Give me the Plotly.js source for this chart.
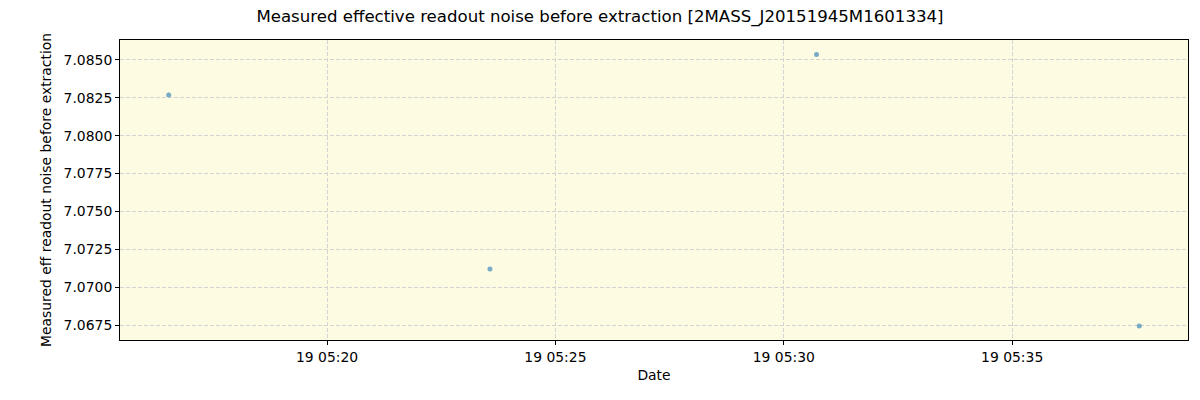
<!DOCTYPE html>
<html><head><meta charset="utf-8">
<script src="https://cdn.plot.ly/plotly-3.0.1.min.js"></script>
<style>html,body{margin:0;padding:0;background:#fff}</style>
</head><body>
<div id="chart" style="width:1200px;height:400px"></div>
<script>
const dates = ["2000-01-19 05:16:32", "2000-01-19 05:23:34", "2000-01-19 05:30:43", "2000-01-19 05:37:47"];
const noise = [7.08269, 7.07120, 7.08537, 7.06743];
const xTicks = ["2000-01-19 05:20:00", "2000-01-19 05:25:00", "2000-01-19 05:30:00", "2000-01-19 05:35:00"];
const xTickText = ["19 05:20", "19 05:25", "19 05:30", "19 05:35"];
const yTicks = [7.0675, 7.0700, 7.0725, 7.0750, 7.0775, 7.0800, 7.0825, 7.0850];

const font = {family: "DejaVu Sans", size: 13.9, color: "#000"};
Plotly.newPlot("chart", [{
  x: dates, y: noise, type: "scatter", mode: "markers",
  marker: {size: 5, color: "rgba(31,119,180,0.6)"},
  hoverinfo: "x+y"
}], {
  width: 1200, height: 400,
  margin: {l: 120, r: 12, t: 40, b: 60},
  paper_bgcolor: "#fff",
  plot_bgcolor: "#fdfbe2",
  font: font,
  title: {text: "Measured effective readout noise before extraction [2MASS_J20151945M1601334]", x: 0.5, xanchor: "center", y: 0.975, yanchor: "top", font: {family: "DejaVu Sans", size: 16.6, color: "#000"}},
  showlegend: false,
  xaxis: {
    type: "date",
    range: ["2000-01-19 05:15:28", "2000-01-19 05:38:51"],
    tickvals: xTicks, ticktext: xTickText,
    showgrid: true, gridcolor: "#d3d3d3", griddash: "4px,2px", gridwidth: 1,
    zeroline: false, showline: true, linecolor: "#000", linewidth: 1, mirror: true,
    ticks: "outside", ticklen: 4, tickcolor: "#000",
    tickfont: font,
    title: {text: "Date", font: font, standoff: 6}
  },
  yaxis: {
    range: [7.06651, 7.08632],
    tickvals: yTicks, tickformat: ".4f",
    showgrid: true, gridcolor: "#d3d3d3", griddash: "4px,2px", gridwidth: 1,
    zeroline: false, showline: true, linecolor: "#000", linewidth: 1, mirror: true,
    ticks: "outside", ticklen: 4, tickcolor: "#000",
    tickfont: font,
    title: {text: "Measured eff readout noise before extraction", font: font, standoff: 8}
  }
}, {displayModeBar: false});
</script>
</body></html>
